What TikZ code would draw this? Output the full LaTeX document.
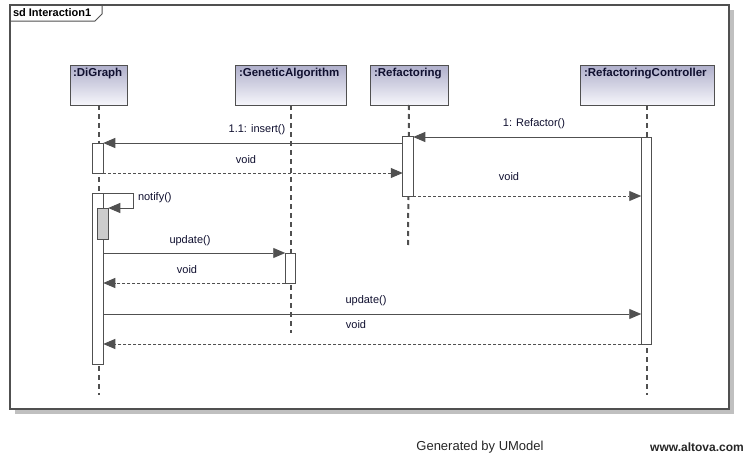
\documentclass[tikz,border=0pt]{standalone}
\usepackage{fontspec}
\setmainfont{Liberation Sans}
\usetikzlibrary{arrows.meta,calc}
\definecolor{ink}{HTML}{505050}
\definecolor{shadowgray}{HTML}{C0C0C0}
\definecolor{headtop}{HTML}{AFAFCB}
\definecolor{headbot}{HTML}{F6F6FB}
\definecolor{txt}{HTML}{101030}
\begin{document}
\begin{tikzpicture}[x=1pt,y=-1pt,
  every node/.style={inner sep=0pt,outer sep=0pt,font=\fontsize{11}{13}\selectfont,text=txt},
  head/.style={draw=ink,line width=1pt,top color=headtop,bottom color=headbot,minimum height=40,anchor=north west},
  headlabel/.style={anchor=north west,font=\fontsize{11.5}{13}\selectfont\bfseries},
  act/.style={draw=ink,line width=0.9pt,fill=white,minimum width=10.5,anchor=north},
  nested/.style={act,fill=black!20},
  lifeline/.style={draw=ink,line width=2pt,dash pattern=on 5pt off 4pt},
  msg/.style={draw=ink,line width=0.9pt,-{Triangle[length=12pt,width=10pt]}},
  reply/.style={msg,dash pattern=on 3pt off 2pt},
  lbl/.style={anchor=center}]
\useasboundingbox (0,0) rectangle (755,455);
% frame with drop shadow and name tab
\fill[shadowgray] (15,10) rectangle (734,414);
\draw[ink,line width=1.2pt,fill=white] (10,5) rectangle (729,409);
\draw[ink,line width=1pt] (10,21) -- (95,21) -- (102,14) -- (102,5);
\node[anchor=west,font=\fontsize{11}{13}\selectfont\bfseries,text=black] (title) at (13,13) {sd Interaction1};
% lifeline heads
\node[head,minimum width=57] (dg) at (70,65) {};
\node[head,minimum width=111] (ga) at (235,65) {};
\node[head,minimum width=78] (rf) at (370,65) {};
\node[head,minimum width=134] (rc) at (580,65) {};
\node[headlabel] (dgL) at ($(dg.north west)+(3,3)$) {:DiGraph};
\node[headlabel] (gaL) at ($(ga.north west)+(4,3)$) {:GeneticAlgorithm};
\node[headlabel] (rfL) at ($(rf.north west)+(4,3)$) {:Refactoring};
\node[headlabel] (rcL) at ($(rc.north west)+(4,3)$) {:RefactoringController};
% lifeline ends
\coordinate (dgE) at (98.5,395);
\coordinate (gaE) at (290.5,333);
\coordinate (rfE) at (408,245);
\coordinate (rcE) at (647,395);
\draw[lifeline] (dg.south) -- (dgE);
\draw[lifeline] (ga.south) -- (gaE);
\draw[lifeline] (rf.south) -- (rfE);
\draw[lifeline] (rc.south) -- (rcE);
% activation bars
\node[act,minimum height=207] (rc1) at (646.5,137) {};
\node[act,minimum height=60] (rf1) at (408,136) {};
\node[act,minimum height=30] (dg1) at (98,143) {};
\node[act,minimum height=171] (dg2) at (98,193) {};
\node[nested,minimum height=31] (dgn) at (103,208) {};
\node[act,minimum height=30] (ga1) at (290.5,253) {};
\coordinate (m7) at (0,314);
% messages
\draw[msg] (rc1.north west) -- (rf1.east |- rc1.north);
\draw[msg] (rf1.west |- dg1.north) -- (dg1.north east);
\draw[reply] (dg1.south east) -- (rf1.west |- dg1.south);
\draw[reply] (rf1.south east) -- (rc1.west |- rf1.south);
\draw[msg] (dg2.north east) -- ++(30,0) |- (dgn.north east);
\draw[msg] (dg2.east |- ga1.north) -- (ga1.north west);
\draw[reply] (ga1.south west) -- (dg2.east |- ga1.south);
\draw[msg] (dg2.east |- m7) -- (rc1.west |- m7);
\draw[reply] (rc1.south west) -- (dg2.east |- rc1.south);
% message labels
\node[lbl] (l1) at (534,124) {1: Refactor()};
\node[lbl] (l2) at (257,130) {1.1: insert()};
\node[lbl] (l3) at (246,160) {void};
\node[lbl] (l4) at (509,177) {void};
\node[anchor=west] (l5) at (138,198) {notify()};
\node[lbl] (l6) at (190,241) {update()};
\node[lbl] (l7) at (187,270) {void};
\node[lbl] (l8) at (366,301) {update()};
\node[lbl] (l9) at (356,325) {void};
% footer
\node[lbl,font=\fontsize{13}{15}\selectfont,text=black!85] (gen) at (480,447) {Generated by UModel};
\node[lbl,font=\fontsize{12}{14}\selectfont\bfseries,text=black!85] (web) at (697,447) {www.altova.com};
\end{tikzpicture}
\end{document}
